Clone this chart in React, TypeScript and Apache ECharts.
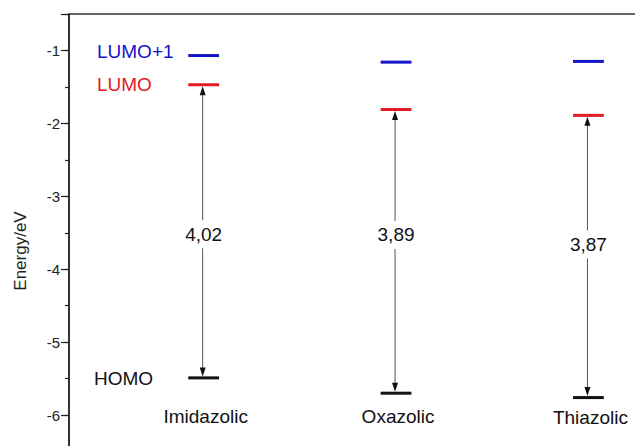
import React, { useEffect, useRef } from "react";
import * as echarts from "echarts";

const categories = ["Imidazolic", "Oxazolic", "Thiazolic"];
const lumoPlus1 = [-1.07, -1.16, -1.15];
const lumo = [-1.47, -1.81, -1.89];
const homo = [-5.49, -5.7, -5.76];
const gaps = [4.02, 3.89, 3.87];
const gapLabelY = [-3.52, -3.53, -3.66];
const categoryLabelY = [-6.02, -6.02, -6.04];
const levelNames = ["LUMO+1", "LUMO", "HOMO"];
const yTickValues = [-1, -2, -3, -4, -5, -6];

const FONT = '"Liberation Sans", Arial, sans-serif';
const BLUE = "#1414c8";
const RED = "#e01b24";

export default function App() {
  const ref = useRef<HTMLDivElement>(null);
  useEffect(() => {
    if (!ref.current) return;
    const chart = echarts.init(ref.current, undefined, { renderer: "svg" });
    const data = categories.map((c, i) => [i, lumoPlus1[i], lumo[i], homo[i], gapLabelY[i], gaps[i], categoryLabelY[i]]);
    const hw = 0.08;
    const option: any = {
      animation: false,
      backgroundColor: "#fff",
      grid: { left: 69, right: 10, top: 14, bottom: 12, show: true, borderColor: "#333", borderWidth: 1.5, backgroundColor: "transparent" },
      xAxis: { type: "value", min: -0.7, max: 2.32, show: false, axisLine: { onZero: false } },
      yAxis: [
        {
          type: "value",
          min: -7,
          max: -0.5,
          interval: 0.5,
          name: "Energy/eV",
          nameLocation: "middle",
          nameGap: 40,
          nameTextStyle: { fontSize: 17, color: "#222", fontFamily: FONT },
          axisLine: { show: true, onZero: false, lineStyle: { color: "#222", width: 1.5 } },
          axisTick: { show: true, length: 4, lineStyle: { color: "#222", width: 1.2 } },
          axisLabel: {
            show: true,
            fontSize: 15,
            color: "#222",
            fontFamily: FONT,
            margin: 9,
            formatter: (v: number) => (yTickValues.indexOf(Math.round(v * 100) / 100) >= 0 ? String(Math.round(v)) : ""),
          },
          splitLine: { show: false },
        },
        {
          type: "value",
          min: -7,
          max: -0.5,
          interval: 1,
          position: "left",
          axisLine: { show: false, onZero: false },
          axisTick: { show: true, length: 8, lineStyle: { color: "#222", width: 1.2 } },
          axisLabel: { show: false },
          splitLine: { show: false },
        },
      ],
      graphic: [
        { type: "text", left: 97, top: 42, style: { text: levelNames[0], fill: BLUE, font: `19px ${FONT}` } },
        { type: "text", left: 97, top: 75, style: { text: levelNames[1], fill: RED, font: `19px ${FONT}` } },
        { type: "text", left: 94, top: 369, style: { text: levelNames[2], fill: "#111", font: `19px ${FONT}` } },
      ],
      series: [
        {
          type: "custom",
          clip: false,
          data,
          renderItem: (params: any, api: any) => {
            const x = api.value(0);
            const l1 = api.value(1);
            const l = api.value(2);
            const h = api.value(3);
            const ly = api.value(4);
            const gap = api.value(5);
            const cy = api.value(6);
            const pL1a = api.coord([x - hw, l1]);
            const pL1b = api.coord([x + hw, l1]);
            const pLa = api.coord([x - hw, l]);
            const pLb = api.coord([x + hw, l]);
            const pHa = api.coord([x - hw, h]);
            const pHb = api.coord([x + hw, h]);
            const pc = api.coord([x, l]);
            const ph = api.coord([x, h]);
            const pLabel = api.coord([x, ly]);
            const pCat = api.coord([x, cy]);
            const ax = pc[0] - 1;
            const topTip = pc[1] + 1.5;
            const botTip = ph[1] - 1.5;
            const gapText = gap.toFixed(2).replace(".", ",");
            return {
              type: "group",
              children: [
                { type: "line", shape: { x1: ax, y1: topTip + 6, x2: ax, y2: botTip - 6 }, style: { stroke: "#555", lineWidth: 1 } },
                { type: "polygon", shape: { points: [[ax, topTip], [ax - 3, topTip + 9], [ax + 3, topTip + 9]] }, style: { fill: "#111" } },
                { type: "polygon", shape: { points: [[ax, botTip], [ax - 3, botTip - 9], [ax + 3, botTip - 9]] }, style: { fill: "#111" } },
                { type: "rect", shape: { x: pLabel[0] - 23, y: pLabel[1] - 14, width: 46, height: 28 }, style: { fill: "#fff" } },
                {
                  type: "text",
                  style: { text: gapText, x: pLabel[0], y: pLabel[1], fill: "#111", font: `19px ${FONT}`, align: "center", verticalAlign: "middle" },
                },
                { type: "line", shape: { x1: pL1a[0], y1: pL1a[1], x2: pL1b[0], y2: pL1b[1] }, style: { stroke: BLUE, lineWidth: 3 } },
                { type: "line", shape: { x1: pLa[0], y1: pLa[1], x2: pLb[0], y2: pLb[1] }, style: { stroke: RED, lineWidth: 3 } },
                { type: "line", shape: { x1: pHa[0], y1: pHa[1], x2: pHb[0], y2: pHb[1] }, style: { stroke: "#111", lineWidth: 3 } },
                {
                  type: "text",
                  style: { text: categories[params.dataIndex], x: pCat[0] + 2, y: pCat[1], fill: "#111", font: `19px ${FONT}`, align: "center", verticalAlign: "middle" },
                },
              ],
            };
          },
        },
      ],
    };
    chart.setOption(option);
    return () => chart.dispose();
  }, []);
  return (
    <div style={{ position: "fixed", left: 0, top: 0, width: 635, height: 446, overflow: "hidden", background: "#fff" }}>
      <div ref={ref} style={{ width: 660, height: 500 }} />
    </div>
  );
}
